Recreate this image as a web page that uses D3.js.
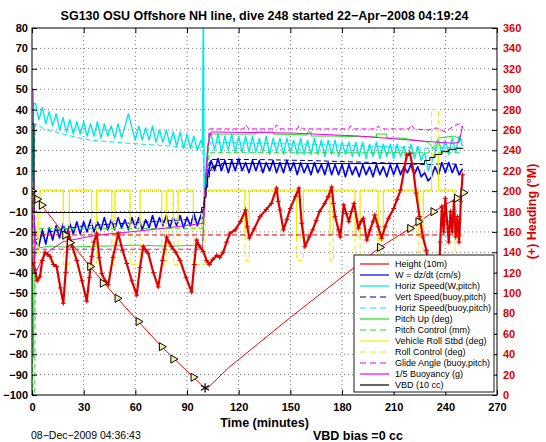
<!DOCTYPE html>
<html><head><meta charset="utf-8">
<script src="https://cdn.jsdelivr.net/npm/d3@7"></script>
<style>body{margin:0;background:#fff}</style>
</head><body><svg id="c" width="546" height="442"></svg>
<script>
// ---------------- DATA ----------------
const titleText = "SG130 OSU Offshore NH line, dive 248 started 22\u2212Apr\u22122008 04:19:24";
const xLabel = "Time (minutes)";
const yRightLabel = "(+) Heading (\u00B0M)";
const dateText = "08\u2212Dec\u22122009 04:36:43";
const biasText = "VBD bias =0 cc";
const xTicks = [0,30,60,90,120,150,180,210,240,270];
const yTicks = [80,70,60,50,40,30,20,10,0,-10,-20,-30,-40,-50,-60,-70,-80,-90,-100];
const hdgTicks = [0,20,40,60,80,100,120,140,160,180,200,220,240,260,280,300,320,340,360];
const legendLabels = ["Height (10m)","W = dz/dt (cm/s)","Horiz Speed(W,pitch)","Vert Speed(buoy,pitch)",
 "Horiz Speed(buoy,pitch)","Pitch Up (deg)","Pitch Control (mm)","Vehicle Roll Stbd (deg)",
 "Roll Control (deg)","Glide Angle (buoy,pitch)","1/5 Buoyancy (g)","VBD (10 cc)"];

// Height (10 m)
const heightT = [0,2,5.6,19.2,33.7,49.6,61.8,75.3,93.7,100.5,102,115,150,202,219.5,233,246.6,250.5];
const heightV = [0,-2,-6.9,-21.6,-37,-52.6,-64,-76.3,-91.3,-96.7,-96.5,-86,-62,-27.6,-18.3,-10.1,-3.5,-0.8];
// markers on the height trace
const markT = [0,3,5.6,19.2,22,33.7,41,49.6,61.8,75.3,82,93.7,202,219.5,224.3,233,246.6,250.5];
const markV = [0,-4,-6.9,-21.6,-25.3,-37,-45.2,-52.6,-64,-76.3,-82.4,-91.3,-27.6,-18.3,-15,-10.1,-3.5,-0.8];
const bottomT = [100.5], bottomV = [-96.5];

// W = dz/dt
const wT = [0,2,4,6,8,10,12,14,16,18,20,22,24,26,28,30,32,34,36,38,40,42,44,46,48,50,52,54,56,58,
 60,62,64,66,68,70,72,74,76,78,80,82,84,86,88,90,92,94,96,98,100,102,104,106,108,110,112,114,116,118,
 120,122,124,126,128,130,132,134,136,138,140,142,144,146,148,150,152,154,156,158,160,162,164,166,168,170,172,174,176,178,
 180,182,184,186,188,190,192,194,196,198,200,202,204,206,208,210,212,214,216,218,220,222,224,226,228,230,232,234,236,238,
 240,242,244,246,248,250];
const wV = [-5,-25,-27,-19,-26,-18,-24,-17,-23,-16,
 -22,-16,-21,-15,-21,-15,-20,-14,-20,-15,
 -19,-13,-19,-14,-19,-13,-18,-14,-19,-13,
 -18,-13,-19,-14,-18,-12,-18,-13,-17,-12,
 -18,-13,-17,-12,-18,-13,-17,-11,-17,-12,
 -8,8,15,10,16,10,15,9,15,10,
 16,10,14,9,15,10,15,9,14,10,
 15,9,14,9,15,10,14,8,14,9,
 13,8,14,9,13,8,14,8,13,8,
 13,7,13,8,12,7,13,8,12,7,
 13,8,12,7,13,8,13,8,12,9,
 13,8,12,7,9,5,7,12,8,14,
 9,14,9,13,8,11];

// Horiz Speed (W,pitch)
const hsT = [0,1,2,4,6,8,10,12,14,16,18,20,22,24,26,28,30,32,34,36,38,40,42,44,46,48,50,52,54,56,58,60,
 62,64,66,68,70,72,74,76,78,80,82,84,86,88,90,92,94,96,98,99,99.5,100,101,102,103,
 104,106,108,110,112,114,116,118,120,122,124,126,128,130,132,134,136,138,140,142,
 144,146,148,150,152,154,156,158,160,162,164,166,168,170,172,174,176,178,180,182,
 184,186,188,190,192,194,196,198,200,202,204,206,208,210,212,214,216,218,220,222,
 224,226,228,230,232,234,236,238,240,242,244,246,248,250];
const hsV = [5,43,
 43,35,41,33,39,32,38,30,36,29,
 35,28,34,28,34,27,33,27,34,26,
 33,27,32,26,33,26,32,38,31,25,
 32,25,31,25,32,24,30,24,30,23,
 29,22,29,21,28,21,27,20,25,
 22,95,-12,10,20,28,
 28,20,28,19,27,20,28,19,27,19,
 27,19,27,19,26,19,27,18,26,19,
 26,18,26,19,25,18,26,18,25,18,
 26,18,25,17,25,18,25,17,24,18,
 24,17,24,17,24,16,23,17,24,16,
 23,17,23,16,23,17,22,16,23,16,
 22,15,19,10,14,19,25,19,25,18,
 26,19,27,22];

// Vert Speed (buoy,pitch)
const vsT = [0.5,2,10,30,60,90,99,100.5,102,104,130,160,200,230,240,250];
const vsV = [0,-24,-20,-17,-15.5,-14,-13.5,0,12,15.5,15.5,15,14,13,13.5,13];
// Horiz Speed (buoy,pitch)
const hbT = [0.5,2,6.6,20,33.7,57,87.6,99,100.5,102,104,130,160,200,230,240,250];
const hbV = [0,33,30.7,27.5,25,23.4,21.7,21.5,0,20,24,23.5,23,22,21,21.5,21];
// Pitch Up
const puT = [0,0.7,1.5,3,10,20,40,60,80,99,101,103,130,130.1,140,140.1,160,160.1,162,162.1,175,200,200.1,206,206.1,215,230,233,236,245,250];
const puV = [0,-82,-30,-28,-27,-27.5,-27,-26.5,-27,-26.5,5,28,28,29,29,28,27.5,29,29,27,27,26.5,28,28,26,26,24,21,26,27,25];
// Pitch Control
const pcT = [0,0.5,1.6,2,99,101,103,230,233,236,250];
const pcV = [0,-100,-100,-18.3,-18.3,5,18.8,18.8,21,18.8,18.8];
// Vehicle Roll (step)
const rollT = [0,0.6,1.2,3.5,4.6,18.2,21.7,34.6,37.5,46.3,48.2,56.9,62.7,75.3,78.2,82,84.8,93.7,98.5,100.5,
 123.7,126.2,153.7,157.6,173,175,187.6,190.5,201,204,224.3,227.2,232,236,245.6,250.5];
const rollV = [0,-38,-30,-10,0.5,-17,0.5,-16,0.5,-15,0.5,-17,0.5,-16,0.5,-15,0.5,-18,-8,0.5,
 -22,0.5,-23,0.5,-21,0.5,-22,0.5,-24,0.5,-21,0.5,18,0.5,-22,-22];
// Roll Control (step)
const rollCT = [0,0.6,1.2,3.5,4.6,18.2,21.7,34.6,37.5,46.3,48.2,56.9,62.7,75.3,78.2,82,84.8,93.7,98.5,100.5,
 123.7,126.2,153.7,157.6,173,175,187.6,190.5,201,204,224.3,227.2,232,236,245.6,250.5];
const rollCV = [0,-36,-36,-20,0,-36,0,-36,0,-36,0,-36,0,-36,0,-36,0,-36,-36,0,
 -34,0,-34,0,-34,0,-34,0,-34,0,-34,0,40,0,-34,-34];
// Glide Angle (buoy,pitch)
const gaT = [0,1,2,99,100.5,103,123,124,126,141,142,144,154,155,157,184,185,187,200,201,203,219,220,222,230,235,240,245,248,250];
const gaV = [0,-40,-28.5,-28.5,0,30.5,30.5,32.5,30.5,30.5,32.5,30.5,30.5,32,30.5,30.5,32,30.5,30.5,32,30.5,30.5,32.5,30.5,30,31,29,32,33,31];
// 1/5 Buoyancy
const byT = [0,0.6,1.5,2.8,6,10.5,18.2,37.6,57,76,99.5,100.5,102,104,150,190,220,235,245,248,250];
const byV = [50,50,-40,-38.8,-33,-29,-24.8,-21.6,-20,-18.3,-15.8,0,22,29,28.5,27,25,24,23.5,24,32];
// VBD (step)
const vbdT = [0,1.2,98.5,100,101,102,103,104,106,110,228,231,234,238,242,246,250.5];
const vbdV = [33,-10.5,-8,-3,2,7,10,11.5,12.5,13.5,15,16.5,18,19.5,20.5,21,21];

// Heading (right axis)
const hdgT = [0.5,1.7,3,4.6,6,7.5,9,10.5,12.5,14.3,16.5,18.2,19.5,21.1,23.5,26,29,31.8,33.3,34.7,36,37.6,39,40.5,42.5,44.3,
 47,50.1,52.5,55,58,60.8,62.7,64.6,66,67.5,70.5,73.3,75.8,78.2,79.5,81.1,83.5,86,89.5,92.7,94.2,95.6,97.6,99.5,
 101.4,103,105,107.3,109,111,113,115,118,121,124,125,126.2,129,132.4,136,139,142,143,144,146,148,150,153,155,156.6,
 158.5,161,163,165,167,170,172,174,175,176,178,179,181,182.5,184,185.5,187,189.5,191,192.4,194.4,196.3,198,199,
 201,203,205,207,210,212,214,216,217.6,219.5,221.4,223,225,227,229,231,233,234.5,236,237,238,239,240,241,242,243,
 244,245,246,247,248,249,250];
const hdgV = [130,123,112,116,132,140,138,136,128,126,105,90,120,160,145,132,112,92,115,136,150,158.7,135,119,112,108,
 135,158.7,142,129,112,98,125,145.5,142,139,120,106,132,155,150,145.5,140,132,115,101,128,152,145,140.6,
 132,128,133,137,135,140,150,158.7,162,170,181.5,165,154,163,175,182,188,203,190,181.5,162,172,183,195,203,168.5,
 145.5,155,162,171,180,188,194.6,204,188,175,162,155,186.5,178,170,180,188,163.6,170,173.4,152,162,170,176.6,
 165,153.8,165,173.4,183,192,201,220,235.5,237,220.8,198,175,155,142,115,85,64,95,150,185,160,193,170,150,180,
 160,190,155,175,150,190,216];
const desiredHdgT = [0,250.5];
const desiredHdgV = [157,157];

// ---------------- DRAW ----------------
const FONT = "'Liberation Sans', Arial, Helvetica, sans-serif";
const svg = d3.select('#c');
const L=32, R=497, T=28, B=395;
const x = d3.scaleLinear().domain([0,270]).range([L,R]);
const y = d3.scaleLinear().domain([-100,80]).range([B,T]);
const yh = d3.scaleLinear().domain([0,360]).range([B,T]);

svg.append('rect').attr('width',546).attr('height',442).attr('fill','#fff');
svg.append('defs').append('clipPath').attr('id','clip')
  .append('rect').attr('x',L).attr('y',T).attr('width',R-L).attr('height',B-T);

// grid
const grid = svg.append('g').attr('stroke','#444').attr('stroke-width',0.7).attr('stroke-dasharray','1,3');
grid.selectAll('.gx').data(xTicks.slice(1,-1)).enter().append('line')
  .attr('x1',d=>x(d)).attr('x2',d=>x(d)).attr('y1',T).attr('y2',B);
grid.selectAll('.gy').data(yTicks.slice(1,-1)).enter().append('line')
  .attr('y1',d=>y(d)).attr('y2',d=>y(d)).attr('x1',L).attr('x2',R);

const plot = svg.append('g').attr('clip-path','url(#clip)');
function zip(ts, vs){ return ts.map((t,i)=>[t,vs[i]]); }
function series(ts, vs, color, opts={}){
  const ys = opts.right ? yh : y;
  const line = d3.line().x(d=>x(d[0])).y(d=>ys(d[1])).curve(opts.step ? d3.curveStepAfter : d3.curveLinear);
  plot.append('path').datum(zip(ts,vs)).attr('d',line).attr('fill','none')
    .attr('stroke',color).attr('stroke-width',opts.w||1)
    .attr('stroke-dasharray',opts.dash||null).attr('stroke-linejoin','round');
}
const C = {red:'#ff0000', blue:'#0000ff', cyan:'#00e8e8', navy:'#00008b', green:'#22dd22',
  yellow:'#eeee00', magenta:'#ee00ee', black:'#000000', hred:'#e00000'};
const DASH = '5,3';

series(heightT, heightV, C.red, {w:1});
series(wT, wV, C.blue, {w:1.6});
series(hsT, hsV, C.cyan, {w:1.4});
series(vsT, vsV, C.navy, {dash:DASH});
series(hbT, hbV, C.cyan, {dash:DASH});
series(puT, puV, C.green);
series(pcT, pcV, C.green, {dash:DASH});
series(rollT, rollV, C.yellow, {step:true, w:1.2});
series(rollCT, rollCV, C.yellow, {step:true, dash:DASH});
series(gaT, gaV, C.magenta, {dash:DASH});
series(byT, byV, C.magenta);
series(vbdT, vbdV, C.black, {step:true});

// heading (right axis)
series(desiredHdgT, desiredHdgV, C.hred, {right:true, dash:DASH});
series(hdgT, hdgV, C.hred, {right:true, w:2.2});
plot.append('g').selectAll('path').data(zip(hdgT,hdgV)).enter().append('path')
  .attr('d', d=>{const px=x(d[0]), py=yh(d[1]); return `M${px-2.5},${py}H${px+2.5}M${px},${py-2.5}V${py+2.5}`;})
  .attr('stroke',C.hred).attr('stroke-width',1).attr('fill','none');

// markers on height
const tri = d3.symbol().type(d3.symbolTriangle).size(28);
plot.append('g').selectAll('path').data(zip(markT,markV)).enter().append('path')
  .attr('d', tri).attr('transform', d=>`translate(${x(d[0])},${y(d[1])}) rotate(90)`)
  .attr('fill','#f4f4b0').attr('stroke','#000').attr('stroke-width',1);
const star = d3.symbol().type(d3.symbolAsterisk || d3.symbolCross).size(60);
plot.append('g').selectAll('path').data(zip(bottomT,bottomV)).enter().append('path')
  .attr('d', star).attr('transform', d=>`translate(${x(d[0])},${y(d[1])})`)
  .attr('fill','none').attr('stroke','#000').attr('stroke-width',1.2);

// box
svg.append('rect').attr('x',L).attr('y',T).attr('width',R-L).attr('height',B-T)
  .attr('fill','none').attr('stroke','#000').attr('stroke-width',1);

function styleAxis(g, color, labels){
  g.select('.domain').remove();
  g.attr('font-family',FONT).attr('font-size',11).attr('font-weight','bold');
  g.selectAll('line').attr('stroke','#000');
  g.selectAll('text').attr('fill',color);
  if(!labels) g.selectAll('text').remove();
}
styleAxis(svg.append('g').attr('transform',`translate(${L},0)`)
  .call(d3.axisLeft(y).tickValues(yTicks).tickSizeInner(-5).tickSizeOuter(0).tickPadding(4)), '#000', true);
styleAxis(svg.append('g').attr('transform',`translate(0,${B})`)
  .call(d3.axisBottom(x).tickValues(xTicks).tickSizeInner(-5).tickSizeOuter(0).tickPadding(8)), '#000', true);
styleAxis(svg.append('g').attr('transform',`translate(0,${T})`)
  .call(d3.axisTop(x).tickValues(xTicks).tickSizeInner(-5).tickSizeOuter(0)), '#000', false);
styleAxis(svg.append('g').attr('transform',`translate(${R},0)`)
  .call(d3.axisRight(yh).tickValues(hdgTicks).tickSizeInner(-5).tickSizeOuter(0).tickPadding(6)), '#dd0000', true);

// legend
const lg = svg.append('g').attr('font-family',FONT).attr('font-size',9);
const lx=354, ly=255, lw=140, lh=137, rowH=11;
lg.append('rect').attr('x',lx).attr('y',ly).attr('width',lw).attr('height',lh)
  .attr('fill','#fff').attr('stroke','#000').attr('stroke-width',0.9);
const legStyle = [[C.red,null],[C.blue,null],[C.cyan,null],[C.navy,DASH],[C.cyan,DASH],[C.green,null],
  [C.green,DASH],[C.yellow,null],[C.yellow,DASH],[C.magenta,DASH],[C.magenta,null],[C.black,null]];
legendLabels.forEach((lab,i)=>{
  const yy = ly+9+i*rowH;
  lg.append('line').attr('x1',lx+6).attr('x2',lx+35).attr('y1',yy).attr('y2',yy)
    .attr('stroke',legStyle[i][0]).attr('stroke-width',1.2).attr('stroke-dasharray',legStyle[i][1] ? '6,4' : null);
  lg.append('text').attr('x',lx+41).attr('y',yy).attr('dy','0.35em').attr('fill','#000').text(lab);
});

// texts
svg.append('text').attr('x',(L+R)/2).attr('y',20).attr('text-anchor','middle')
  .attr('font-family',FONT).attr('font-size',12.5).attr('font-weight','bold').text(titleText);
svg.append('text').attr('x',(L+R)/2).attr('y',427).attr('text-anchor','middle')
  .attr('font-family',FONT).attr('font-size',12.5).attr('font-weight','bold').text(xLabel);
svg.append('text').attr('transform',`translate(536,${(T+B)/2}) rotate(-90)`).attr('text-anchor','middle')
  .attr('font-family',FONT).attr('font-size',12.5).attr('font-weight','bold').attr('fill','#dd0000').text(yRightLabel);
svg.append('text').attr('x',31).attr('y',439)
  .attr('font-family',FONT).attr('font-size',10.5).text(dateText);
svg.append('text').attr('x',313).attr('y',440)
  .attr('font-family',FONT).attr('font-size',12.5).attr('font-weight','bold').text(biasText);
</script></body></html>
